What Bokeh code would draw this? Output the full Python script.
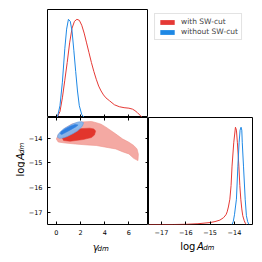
import math
from bokeh.plotting import figure
from bokeh.layouts import gridplot
from bokeh.models import FixedTicker, LinearAxis, Range1d, Label, Legend, LegendItem
from bokeh.embed import file_html
from bokeh.resources import INLINE

# ---------------- data ----------------
SERIES = ["with SW-cut", "without SW-cut"]

GAMMA_TICKS = [0, 2, 4, 6]
LOGA_TICKS = [-17, -16, -15, -14]
LOGA_TICK_LABELS = ["\u221217", "\u221216", "\u221215", "\u221214"]

# 1D marginal of gamma_dm (normalised to peak = 1)
red_gamma_x = [0.0, 0.1, 0.3, 0.5, 0.7, 0.9, 1.1, 1.3, 1.5, 1.7, 1.9, 2.1, 2.3, 2.5, 2.7, 2.9,
               3.1, 3.3, 3.5, 3.7, 3.9, 4.1, 4.4, 4.8, 5.2, 5.6, 6.0, 6.3, 6.5, 6.7, 6.9, 7.1]
red_gamma_y = [0.0, 0.01, 0.06, 0.2, 0.38, 0.56, 0.76, 0.91, 0.98, 1.0, 0.99, 0.94, 0.86, 0.76, 0.66, 0.56,
               0.47, 0.39, 0.32, 0.27, 0.23, 0.2, 0.17, 0.13, 0.11, 0.10, 0.095, 0.085, 0.07, 0.05, 0.025, 0.0]
blue_gamma_x = [0.0, 0.1, 0.3, 0.5, 0.7, 0.85, 1.0, 1.15, 1.3, 1.45, 1.6, 1.75, 1.9, 2.1, 2.3]
blue_gamma_y = [0.0, 0.01, 0.12, 0.36, 0.7, 0.9, 1.0, 0.98, 0.88, 0.68, 0.47, 0.27, 0.12, 0.03, 0.0]

# 1D marginal of log A_dm (normalised to peak = 1)
red_loga_x = [-17.5, -16.5, -16.0, -15.5, -15.0, -14.8, -14.6, -14.45, -14.35, -14.3, -14.25, -14.19,
              -14.14, -14.1, -14.03, -13.96, -13.92, -13.88, -13.82, -13.78, -13.74, -13.7, -13.66,
              -13.6, -13.55, -13.5]
red_loga_y = [0.0, 0.0, 0.002, 0.008, 0.02, 0.03, 0.045, 0.07, 0.1, 0.13, 0.18, 0.26,
              0.4, 0.6, 0.84, 1.0, 0.97, 0.84, 0.6, 0.4, 0.26, 0.16, 0.09,
              0.04, 0.01, 0.0]
blue_loga_x = [-14.1, -14.05, -14.0, -13.95, -13.92, -13.86, -13.81, -13.77, -13.73, -13.7, -13.68,
               -13.63, -13.56, -13.51, -13.46, -13.41]
blue_loga_y = [0.0, 0.03, 0.1, 0.2, 0.26, 0.6, 0.84, 0.97, 1.0, 0.97, 0.84,
               0.6, 0.26, 0.09, 0.03, 0.0]

# 2D credible regions (gamma_dm, log A_dm)
red_outer_g = [0.0, 0.16, 0.65, 1.29, 2.1, 2.9, 3.3, 3.7, 4.1, 4.9, 5.46, 6.0, 6.4, 6.67, 6.78, 6.75,
               6.4, 6.0, 5.46, 4.92, 4.1, 3.3, 2.6, 1.56, 0.73, 0.16]
red_outer_a = [-14.04, -13.86, -13.62, -13.43, -13.35, -13.33, -13.38, -13.44, -13.56, -13.83, -14.03,
               -14.17, -14.3, -14.44, -14.65, -14.91, -14.82, -14.64, -14.55, -14.44, -14.37, -14.3,
               -14.28, -14.24, -14.2, -14.16]
red_inner_g = [0.46, 0.7, 1.14, 1.95, 2.76, 3.1, 3.25, 3.15, 2.9, 2.22, 1.14, 0.6]
red_inner_a = [-13.97, -13.82, -13.70, -13.62, -13.6, -13.63, -13.72, -13.88, -13.98, -14.06, -14.13, -14.1]
blue_outer_g = [2.25, 2.18, 2.06, 1.75, 1.35, 0.9, 0.54, 0.25, 0.10, 0.14, 0.29, 0.6, 1.0, 1.4, 1.81, 2.1]
blue_outer_a = [-13.38, -13.48, -13.57, -13.71, -13.83, -13.94, -14.0, -14.01, -13.97, -13.87, -13.77,
                -13.63, -13.52, -13.42, -13.35, -13.34]
blue_inner_g = [1.8, 1.6, 1.2, 0.8, 0.45, 0.32, 0.4, 0.75, 1.15, 1.55]
blue_inner_a = [-13.47, -13.55, -13.66, -13.77, -13.86, -13.83, -13.74, -13.62, -13.52, -13.45]

# ---------------- styling ----------------
RED = "#E53935"
BLUE = "#1E88E5"
FONT = "DejaVu Sans"
G_RANGE = (-0.73, 7.62)
A_RANGE = (-17.49, -13.17)
A_RANGE_X = (-17.53, -13.26)
D_RANGE = (0.0, 1.1)
minus_over = {t: l for t, l in zip(LOGA_TICKS, LOGA_TICK_LABELS)}
NAN = float("nan")


def base(width, height, xr, yr, bl, br, bt, bb, xloc="below", yloc="left"):
    p = figure(width=width, height=height, x_range=Range1d(*xr), y_range=Range1d(*yr),
               output_backend="svg", toolbar_location=None,
               x_axis_location=xloc, y_axis_location=yloc)
    p.min_border_left = bl
    p.min_border_right = br
    p.min_border_top = bt
    p.min_border_bottom = bb
    p.grid.visible = False
    p.outline_line_color = "black"
    p.outline_line_width = 1
    p.outline_line_alpha = 1
    p.background_fill_color = "white"
    p.border_fill_color = "white"
    return p


def blank(width, height):
    p = figure(width=width, height=height, x_range=Range1d(0, width), y_range=Range1d(0, height),
               output_backend="svg", toolbar_location=None, title=None,
               x_axis_location=None, y_axis_location=None)
    p.min_border_left = 0
    p.min_border_right = 0
    p.min_border_top = 0
    p.min_border_bottom = 0
    p.grid.visible = False
    p.outline_line_color = None
    p.border_fill_color = "white"
    p.background_fill_color = "white"
    return p


def style_axis(ax, ticks, show_labels=True, overrides=None):
    ax.ticker = FixedTicker(ticks=ticks)
    ax.major_tick_in = 3
    ax.major_tick_out = 0
    ax.minor_tick_in = 0
    ax.minor_tick_out = 0
    ax.major_tick_line_color = "black"
    ax.axis_line_color = None
    ax.major_label_text_font = FONT
    if show_labels:
        ax.major_label_text_font_size = "6.5px"
        ax.major_label_standoff = 5
        ax.major_label_text_color = "black"
        if overrides:
            ax.major_label_overrides = overrides
    else:
        ax.major_label_text_font_size = "0px"
        ax.major_label_standoff = 0
        ax.major_label_overrides = {t: "" for t in ticks}


def add_text(p, x, y, text, size, italic=False, angle=0.0):
    p.add_layout(Label(x=x, y=y, text=text, text_font=FONT, text_font_size=size,
                       text_font_style="italic" if italic else "normal",
                       text_color="black", angle=angle, text_align="left",
                       text_baseline="alphabetic"))


# ---------- top-left: gamma marginal ----------
tl = base(123, 117, G_RANGE, D_RANGE, 20, 0, 9, 0, yloc=None)
style_axis(tl.xaxis[0], GAMMA_TICKS, show_labels=False)
tl.line(red_gamma_x, red_gamma_y, line_color=RED, line_width=1)
tl.line(blue_gamma_x, blue_gamma_y, line_color=BLUE, line_width=1)

# ---------- legend cell ----------
lg = blank(108, 117)
r_red = lg.quad(left=[NAN], right=[NAN], top=[NAN], bottom=[NAN], fill_color=RED, line_color=None)
r_blue = lg.quad(left=[NAN], right=[NAN], top=[NAN], bottom=[NAN], fill_color=BLUE, line_color=None)
legend = Legend(items=[LegendItem(label=SERIES[0], renderers=[r_red]),
                       LegendItem(label=SERIES[1], renderers=[r_blue])],
                location="top_right", margin=4, padding=3, spacing=1,
                glyph_width=18, glyph_height=6, label_height=6, label_standoff=5,
                label_text_font=FONT, label_text_font_size="7.5px",
                border_line_color="#c8c8c8", border_line_width=1,
                background_fill_color="white", background_fill_alpha=1)
lg.add_layout(legend)

# ---------- bottom-left: 2D ----------
bl = base(123, 120, G_RANGE, A_RANGE, 20, 0, 0, 13)
style_axis(bl.xaxis[0], GAMMA_TICKS)
style_axis(bl.yaxis[0], LOGA_TICKS, overrides=minus_over)
ax_top = LinearAxis()
style_axis(ax_top, GAMMA_TICKS, show_labels=False)
bl.add_layout(ax_top, "above")
ax_right = LinearAxis()
style_axis(ax_right, LOGA_TICKS, show_labels=False)
bl.add_layout(ax_right, "right")

bl.patch(red_outer_g, red_outer_a, fill_color="#F4A9A3", line_color="#EF948C", line_width=0.6)
bl.patch(red_inner_g, red_inner_a, fill_color="#E2352C", line_color="#E2352C", line_width=0.5)
bl.patch(blue_outer_g, blue_outer_a, fill_color="#86B8EE", fill_alpha=0.95,
         line_color="#5C9EE8", line_width=0.6)
bl.patch(blue_inner_g, blue_inner_a, fill_color="#2F7FE0", line_color="#2F7FE0", line_width=0.5)

# ---------- bottom-right: log A marginal ----------
br = base(114, 120, A_RANGE_X, D_RANGE, 0, 10, 0, 13, yloc=None)
style_axis(br.xaxis[0], LOGA_TICKS, overrides=minus_over)
br.line(red_loga_x, red_loga_y, line_color=RED, line_width=1)
br.line(blue_loga_x, blue_loga_y, line_color=BLUE, line_width=1)

# ---------- axis-label cells (pixel coordinates) ----------
half_pi = math.pi / 2
ylab = blank(25, 120)
add_text(ylab, 19.5, 53.8, "log", "10px", angle=half_pi)
add_text(ylab, 19.5, 72.2, "A", "10px", italic=True, angle=half_pi)
add_text(ylab, 21.0, 79.0, "dm", "7px", italic=True, angle=half_pi)

xl1 = blank(123, 25)
add_text(xl1, 55.0, 15.5, "\u03b3", "10px", italic=True)
add_text(xl1, 60.9, 14.0, "dm", "7px", italic=True)

xl2 = blank(114, 25)
add_text(xl2, 34.7, 16.5, "log", "10px")
add_text(xl2, 53.1, 16.5, "A", "10px", italic=True)
add_text(xl2, 59.9, 15.0, "dm", "7px", italic=True)

grid = gridplot([[None, tl, lg], [ylab, bl, br], [None, xl1, xl2]], toolbar_location=None)

open("out.html", "w").write(file_html(grid, INLINE))
